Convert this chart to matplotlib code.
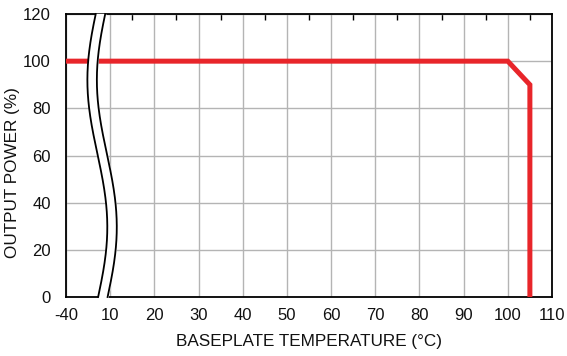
import numpy as np
import matplotlib
matplotlib.use("Agg")
import matplotlib.pyplot as plt
from matplotlib.scale import FuncScale

# Data
temp = [-40, 100, 105, 105]
power = [100, 100, 90, 0]
xticks = [-40, 10, 20, 30, 40, 50, 60, 70, 80, 90, 100, 110]
xminor = [15, 25, 35, 45, 55, 65, 75, 85, 95, 105]
yticks = [0, 20, 40, 60, 80, 100, 120]

plt.rcParams['font.family'] = ['Liberation Sans', 'DejaVu Sans']

def fwd(x):
    x = np.asarray(x, dtype=float)
    return np.where(x >= 10, x / 10.0, (x + 40) / 50.0)

def inv(t):
    t = np.asarray(t, dtype=float)
    return np.where(t >= 1, t * 10.0, t * 50.0 - 40)

fig = plt.figure(figsize=(5.67, 3.56), dpi=100)
ax = fig.add_axes([0.1164, 0.1657, 0.9735 - 0.1164, 0.9607 - 0.1657])
ax.set_xscale(FuncScale(ax, (fwd, inv)))
ax.set_xlim(-40, 110)
ax.set_ylim(0, 120)
ax.set_xticks(xticks)
ax.set_xticklabels([str(v) for v in xticks])
ax.set_xticks(xminor, minor=True)
ax.set_yticks(yticks)

ax.grid(True, which='major', color='#b4b4b4', linewidth=1.0)
ax.set_axisbelow(True)

ax.plot(temp, power, color='#e8252a', linewidth=3.6, solid_joinstyle='miter', zorder=3)

for s in ax.spines.values():
    s.set_linewidth(1.3)
    s.set_color('black')

ax.tick_params(axis='both', which='major', direction='in', length=0, labelsize=12, colors='#111111')
ax.tick_params(axis='x', which='major', pad=8)
ax.tick_params(axis='y', which='major', pad=11)
ax.tick_params(axis='x', which='minor', direction='in', length=4, width=1.0,
               top=True, bottom=False, labelbottom=False)

ax.set_xlabel('BASEPLATE TEMPERATURE (°C)', fontsize=12.3, color='#111111', labelpad=8)
ax.set_ylabel('OUTPUT POWER (%)', fontsize=12.3, color='#111111')
ax.yaxis.set_label_coords(-0.095, 0.44)

# Axis break band (decorative), in axes fraction coordinates
yy = np.linspace(0, 1, 200)
c, A, per, ph = 0.0645, 0.0205, 1.04, 0.247
xl = c + A * np.cos(2 * np.pi * (yy - ph) / per)
xr = xl + 0.0195
ax.fill_betweenx(yy, xl, xr, color='white', transform=ax.transAxes, zorder=5, clip_on=False)
ax.plot(xl, yy, color='black', linewidth=1.3, transform=ax.transAxes, zorder=6, clip_on=False)
ax.plot(xr, yy, color='black', linewidth=1.3, transform=ax.transAxes, zorder=6, clip_on=False)

fig.savefig('out.png', dpi=100)
